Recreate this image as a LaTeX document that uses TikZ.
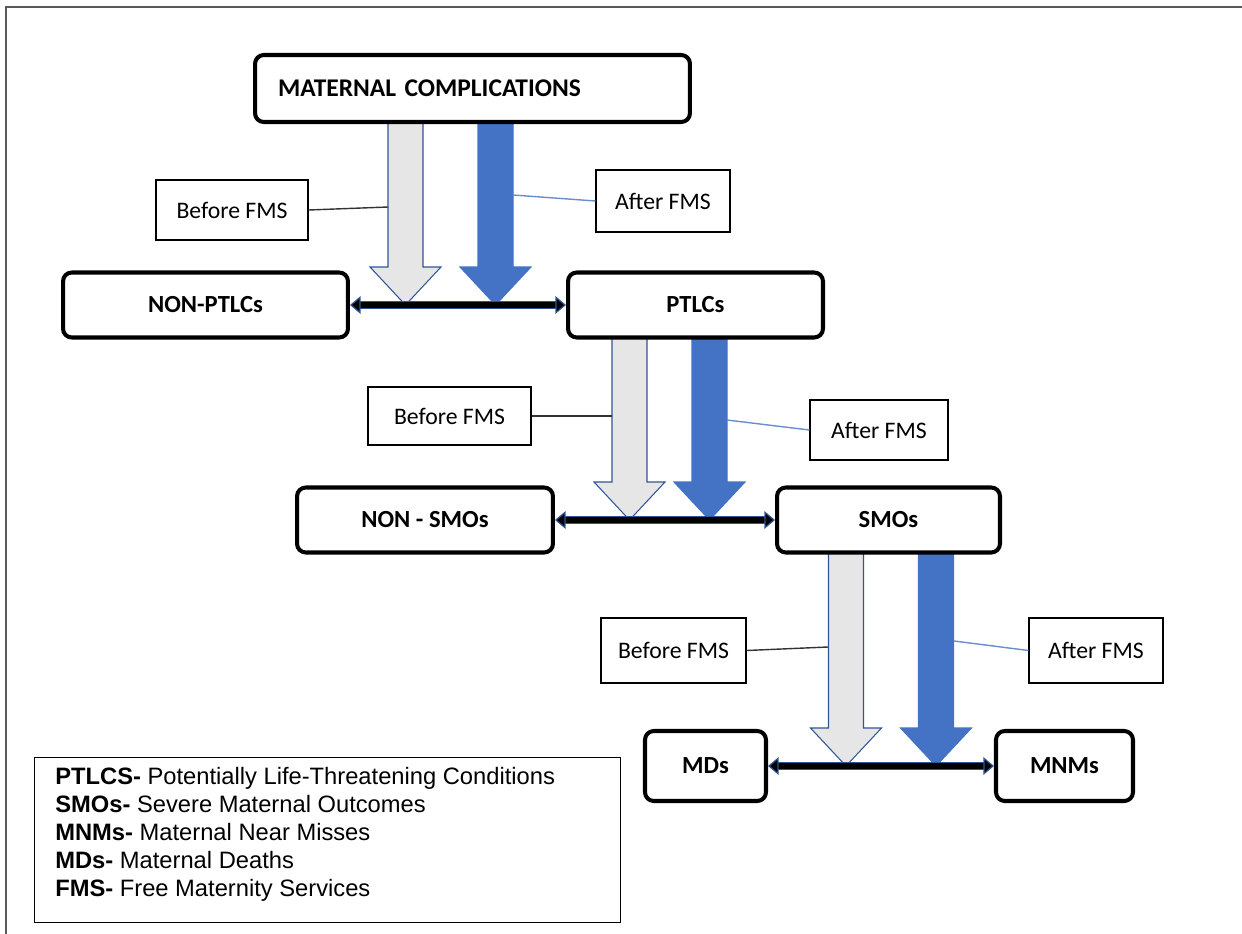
\documentclass[tikz,border=0pt]{standalone}
\usepackage{fontspec}
\setmainfont{Carlito}
\newfontfamily\keyfont{Liberation Sans}
\usepackage{xcolor}
\usetikzlibrary{arrows.meta, positioning, calc}

\definecolor{fmsblue}{HTML}{4472C4}
\definecolor{fmsedge}{HTML}{2F5597}
\definecolor{fmsgray}{HTML}{E7E6E6}
\definecolor{framegray}{HTML}{595959}

% block arrow: style, x centre, y top, y tip (pixel units)
\newcommand{\fatarrow}[4]{%
  \draw[#1] (#2-17.5,#3) -- (#2+17.5,#3) -- (#2+17.5,#4-38) -- (#2+35.5,#4-38)
    -- (#2,#4) -- (#2-35.5,#4-38) -- (#2-17.5,#4-38) -- cycle;}

\begin{document}
\begin{tikzpicture}[x=0.02cm, y=-0.02cm,
  stagebox/.style={draw, line width=2.3pt, rounded corners=5pt, fill=white,
    minimum height=1.3cm, inner sep=0pt, font=\fontsize{14}{16}\selectfont\bfseries},
  labelbox/.style={draw, line width=0.6pt, fill=white, minimum height=1.2cm,
    inner sep=0pt, font=\fontsize{13.5}{16}\selectfont},
  grayarrow/.style={draw=fmsedge, line width=0.6pt, fill=fmsgray},
  bluearrow/.style={draw=fmsblue, line width=0.6pt, fill=fmsblue},
  beforelink/.style={draw=black!80, line width=0.8pt},
  afterlink/.style={draw=fmsblue!80, line width=0.8pt},
  twoway/.style={draw=black, line width=3.4pt,
    {Triangle[length=6pt,width=10pt,line width=0.7pt,color=fmsedge,fill=black]}-{Triangle[length=6pt,width=10pt,line width=0.7pt,color=fmsedge,fill=black]},
    preaction={draw=fmsedge, line width=4.6pt, -, shorten <=5pt, shorten >=5pt}}]
\useasboundingbox (0,0) rectangle (1242,934);

% frame
\draw[framegray, line width=1.1pt] (1242,7) -- (6,7) -- (6,934);

% block arrows
\fatarrow{grayarrow}{405.5}{122}{305}
\fatarrow{bluearrow}{495.5}{122}{305}
\fatarrow{grayarrow}{629.5}{338}{520}
\fatarrow{bluearrow}{709.5}{338}{520}
\fatarrow{grayarrow}{846}{552}{766}
\fatarrow{bluearrow}{936}{552}{766}

% stages
\node[stagebox, minimum width=8.7cm, minimum height=1.34cm, text width=7.78cm,
  inner xsep=0.46cm, align=left, font=\fontsize{14.5}{16}\selectfont\bfseries]
  (mc) at (472.5,88.5) {MATERNAL COMPLICATIONS};
\node[stagebox, minimum width=5.7cm] (npt) at (205.5,305) {NON-PTLCs};
\node[stagebox, minimum width=5.1cm] (pt) at (695.5,305) {PTLCs};
\node[stagebox, minimum width=5.12cm] (nsm) at (425,520) {NON - SMOs};
\node[stagebox, minimum width=4.46cm] (sm) at (888.5,520) {SMOs};
\node[stagebox, minimum width=2.42cm, minimum height=1.4cm] (md) at (705.5,766) {MDs};
\node[stagebox, minimum width=2.74cm, minimum height=1.4cm] (mnm) at (1064.5,766) {MNMs};

% before / after labels
\node[labelbox, minimum width=3.04cm] (bf1) at (232,210) {Before FMS};
\node[labelbox, minimum width=2.68cm, minimum height=1.24cm] (af1) at (663,201) {After FMS};
\node[labelbox, minimum width=3.26cm, minimum height=1.16cm] (bf2) at (449.5,416) {Before FMS};
\node[labelbox, minimum width=2.76cm] (af2) at (879,430) {After FMS};
\node[labelbox, minimum width=2.9cm, minimum height=1.3cm] (bf3) at (673.5,650.5) {Before FMS};
\node[labelbox, minimum width=2.68cm, minimum height=1.3cm] (af3) at (1096,650.5) {After FMS};

% shaft points
\coordinate (g1) at (388,207);
\coordinate (b1) at (513,195);
\coordinate (g2) at (612,416);
\coordinate (b2) at (727,420);
\coordinate (g3) at (828,647);
\coordinate (b3) at (954,641);

\draw[beforelink] (bf1.east) -- (g1);
\draw[afterlink] (b1) -- (af1.west);
\draw[beforelink] (bf2.east) -- (g2);
\draw[afterlink] (b2) -- (af2.west);
\draw[beforelink] (bf3.east) -- (g3);
\draw[afterlink] (b3) -- (af3.west);

% two-way links
\draw[twoway] (npt.east) -- (pt.west);
\draw[twoway] (nsm.east) -- (sm.west);
\draw[twoway] (md.east) -- (mnm.west);

% key
\node[draw, line width=0.7pt, anchor=north west, minimum width=11.72cm,
  minimum height=3.3cm, inner sep=0pt] (key) at (34,757) {};
\node[anchor=north west, inner sep=0pt, align=left,
  font=\keyfont\fontsize{13.5}{15.9}\selectfont] (keytxt) at (55,767) {%
  \textbf{PTLCS-} Potentially Life-Threatening Conditions\\
  \textbf{SMOs-} Severe Maternal Outcomes\\
  \textbf{MNMs-} Maternal Near Misses\\
  \textbf{MDs-} Maternal Deaths\\
  \textbf{FMS-} Free Maternity Services};
\end{tikzpicture}
\end{document}
